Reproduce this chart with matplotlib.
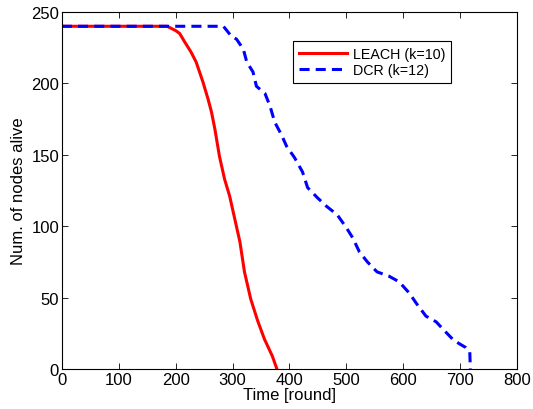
import matplotlib
matplotlib.use("Agg")
import matplotlib.pyplot as plt

# LEACH (k=10)
leach_t = [0, 185, 190, 200, 207, 216, 227, 236, 248, 257, 263, 269, 277, 286,
           295, 304, 313, 321, 332, 344, 356, 370, 378]
leach_n = [240, 240, 239, 237, 235, 229, 222, 215, 201, 189, 180, 168, 149, 133,
           121, 105, 89, 68, 49, 34, 21, 9, 0]

# DCR (k=12)
dcr_t = [0, 284, 298, 307, 319, 325, 336, 342, 357, 366, 374, 386, 395, 409, 423,
         432, 449, 465, 484, 500, 511, 523, 537, 554, 575, 593, 611, 623, 640, 658,
         672, 689, 710, 717, 718]
dcr_n = [240, 240, 233, 231, 224, 215, 208, 198, 193, 184, 173, 164, 156, 148, 138,
         127, 120, 114, 108, 99, 92, 82, 75, 68, 65, 61, 53, 46, 37, 33,
         27, 20, 15, 12, 0]

x_ticks = [0, 100, 200, 300, 400, 500, 600, 700, 800]
y_ticks = [0, 50, 100, 150, 200, 250]

plt.rcParams["font.family"] = ["Liberation Sans", "DejaVu Sans"]
plt.rcParams["font.size"] = 12

fig = plt.figure(figsize=(5.33, 4.10), dpi=100)
ax = fig.add_axes([0.116, 0.0976, 0.854, 0.8707])

ax.plot(leach_t, leach_n, color="#ff0000", linewidth=2.2, label="LEACH (k=10)")
ax.plot(dcr_t, dcr_n, color="#0000ff", linewidth=2.2, linestyle=(0, (3.3, 2.0)),
        label="DCR (k=12)")

ax.set_xlim(0, 800)
ax.set_ylim(0, 250)
ax.set_xticks(x_ticks)
ax.set_yticks(y_ticks)
ax.tick_params(direction="in", top=True, right=True, length=4, width=0.6, pad=2)
for s in ax.spines.values():
    s.set_linewidth(0.8)

ax.set_xlabel("Time [round]", labelpad=0)
ax.set_ylabel("Num. of nodes alive", labelpad=4)

leg = ax.legend(loc="upper left", bbox_to_anchor=(293 / 533, 1 - 42 / 410),
                bbox_transform=fig.transFigure, fancybox=False, edgecolor="black",
                framealpha=1, handlelength=3.4, handletextpad=0.4, borderpad=0.4,
                labelspacing=0.15, borderaxespad=0, fontsize=10.3)
leg.get_frame().set_linewidth(0.8)

fig.savefig("out.png", dpi=100)
